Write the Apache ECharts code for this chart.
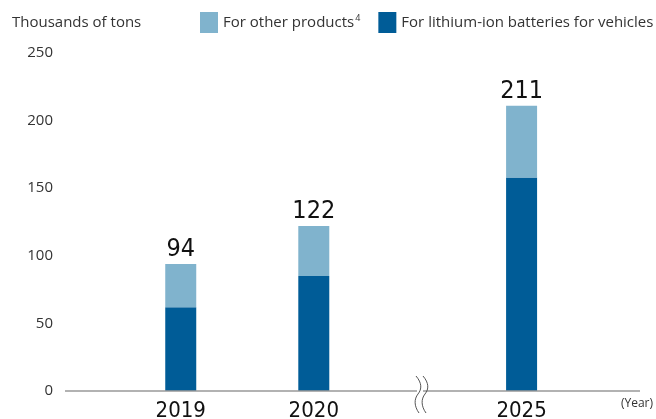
<!DOCTYPE html>
<html>
<head>
<meta charset="utf-8">
<script src="https://cdn.jsdelivr.net/npm/echarts@6.0.0/dist/echarts.min.js"></script>
<style>
  html, body { margin: 0; padding: 0; background: #fff; }
  #echarts { width: 656px; height: 419px; }
</style>
</head>
<body>
<div id="echarts"></div>
<script>
// Dados do gráfico (milhares de toneladas)
var years = [2019, 2020, 2025];
var lithiumIon = [62, 85, 158];
var otherProducts = [32, 37, 53];
var totals = [94, 122, 211];

var corEscura = '#005c97';
var corClara = '#80b3cd';
var fonteNumeros = '"DejaVu Sans Condensed", Roboto, sans-serif';

var chart = echarts.init(document.getElementById('echarts'));

// Símbolo de quebra do eixo (duas linhas onduladas)
function onda(dx) {
    var estilo = { stroke: '#555', lineWidth: 1, fill: null };
    return [
        {
            type: 'bezierCurve', z: 101,
            shape: { x1: 416 + dx, y1: 376, cpx1: 422 + dx, cpy1: 383, cpx2: 422 + dx, cpy2: 389, x2: 418 + dx, y2: 394 },
            style: estilo
        },
        {
            type: 'bezierCurve', z: 101,
            shape: { x1: 418 + dx, y1: 394, cpx1: 414 + dx, cpy1: 399, cpx2: 414 + dx, cpy2: 406, x2: 419 + dx, y2: 413 },
            style: estilo
        }
    ];
}

var options = {
    backgroundColor: '#fff',
    animation: false,
    title: {
        text: 'Thousands of tons',
        left: 7,
        top: 10,
        textStyle: {
            fontFamily: 'Open Sans',
            fontSize: 15,
            fontWeight: 'normal',
            color: '#333'
        }
    },
    legend: {
        data: ['For other products', 'For lithium-ion batteries for vehicles'],
        left: 200,
        top: 12,
        padding: 0,
        width: 456,
        icon: 'rect',
        itemWidth: 18,
        itemHeight: 21,
        itemGap: 18,
        formatter: function (name) {
            if (name === 'For other products') {
                return '{t|' + name + '}{s|4}';
            }
            return '{t|' + name + '}';
        },
        textStyle: {
            rich: {
                t: { fontFamily: 'Open Sans', fontSize: 15, color: '#333' },
                s: { fontFamily: 'Open Sans', fontSize: 9, color: '#333', verticalAlign: 'top', padding: [0, 0, 8, 1] }
            }
        }
    },
    grid: {
        left: 65,
        right: 16,
        top: 53,
        bottom: 28,
        outerBoundsMode: 'none'
    },
    xAxis: {
        type: 'value',
        min: 2018.13,
        max: 2025.89,
        breaks: [{ start: 2020.5, end: 2024.5, gap: '13%' }],
        breakArea: { show: false },
        // a linha do eixo é desenhada inteira no "graphic" (a quebra a cortaria)
        axisLine: { show: false },
        axisTick: { show: false },
        splitLine: { show: false },
        axisLabel: {
            customValues: years,
            margin: 9,
            fontFamily: fonteNumeros,
            fontSize: 22,
            color: '#111',
            formatter: function (v) { return String(v); }
        }
    },
    yAxis: {
        type: 'value',
        min: 0,
        max: 250,
        interval: 50,
        axisLine: { show: false },
        axisTick: { show: false },
        splitLine: { show: false },
        axisLabel: {
            margin: 12,
            fontFamily: 'Open Sans',
            fontSize: 15,
            color: '#333'
        }
    },
    graphic: [
        {
            type: 'line', z: 99,
            shape: { x1: 65, y1: 391, x2: 640, y2: 391 },
            style: { stroke: '#999', lineWidth: 1.5 }
        },
        {
            type: 'rect', z: 100,
            shape: { x: 417, y: 388, width: 6, height: 6 },
            style: { fill: '#fff' }
        }
    ].concat(onda(0), onda(7), [
        {
            type: 'text',
            right: 3,
            top: 398,
            style: { text: '(Year)', fontFamily: 'Open Sans', fontSize: 12, fill: '#333' }
        }
    ]),
    series: [
        {
            name: 'For lithium-ion batteries for vehicles',
            type: 'bar',
            stack: 'total',
            barWidth: 31,
            encode: { x: 1, y: 0 },
            itemStyle: { color: corEscura },
            data: years.map(function (y, i) { return [lithiumIon[i], y]; })
        },
        {
            name: 'For other products',
            type: 'bar',
            stack: 'total',
            barWidth: 31,
            encode: { x: 1, y: 0 },
            itemStyle: { color: corClara },
            label: {
                show: true,
                position: 'top',
                distance: 2,
                fontFamily: fonteNumeros,
                fontSize: 25,
                color: '#111',
                formatter: function (p) { return totals[p.dataIndex]; }
            },
            data: years.map(function (y, i) { return [otherProducts[i], y]; })
        }
    ]
};

chart.setOption(options);
</script>
</body>
</html>
